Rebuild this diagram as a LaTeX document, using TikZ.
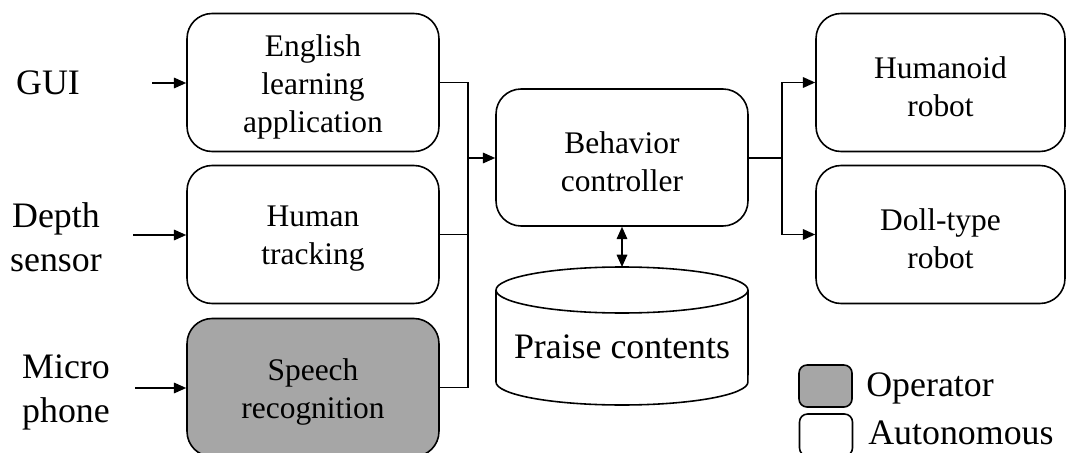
\documentclass[tikz,border=0pt]{standalone}
\usepackage{fontspec}
\setmainfont{Liberation Serif}
\usetikzlibrary{arrows.meta}

\definecolor{opgray}{RGB}{166,166,166}
\tikzset{
  box/.style={draw, line width=0.9pt, rounded corners=0.5cm, fill=white,
    minimum width=5.04cm, minimum height=2.76cm, inner sep=0pt},
  opbox/.style={box, fill=opgray},
  boxtext/.style={align=center, inner sep=0pt, yshift=-0.09cm,
    font=\fontsize{17.9}{21.6}\selectfont},
  big/.style={align=center, inner sep=0pt, font=\fontsize{20.4}{25}\selectfont},
  key/.style={draw, line width=0.9pt, rounded corners=0.16cm,
    minimum width=1.06cm, minimum height=0.84cm, inner sep=0pt},
  wire/.style={line width=0.9pt},
  arr/.style={wire, -{Triangle[length=7pt,width=6pt]}},
  darr/.style={wire, {Triangle[length=7pt,width=6pt]}-{Triangle[length=7pt,width=6pt]}},
}

\begin{document}
\begin{tikzpicture}[x=0.02cm, y=0.02cm]
  \useasboundingbox (0,0) rectangle (1066,-453);

  % input sources
  \node[big] (gui) at (48,-83) {GUI};
  \node[big] (depth) at (56,-237) {Depth\\sensor};
  \node[big] (mic) at (66,-392) {Micro\\phone};
  \coordinate (guiin) at (152,-83);
  \coordinate (depthin) at (133,-235);
  \coordinate (micin) at (135,-388);

  % processing modules
  \node[box] (eng) at (313,-82.5) {};
  \node[boxtext] (engt) at (eng.center) {English\\learning\\application};
  \node[box] (track) at (313,-234.5) {};
  \node[boxtext] (trackt) at (track.center) {Human\\tracking};
  \node[opbox] (speech) at (313,-387.5) {};
  \node[boxtext] (speecht) at (speech.center) {Speech\\recognition};

  % controller and praise database
  \node[box, minimum height=2.74cm] (beh) at (622,-157.5) {};
  \node[boxtext] (beht) at (beh.center) {Behavior\\controller};
  \draw[wire, fill=white] (496,-290) -- (496,-382)
    arc[start angle=180, end angle=360, x radius=2.52cm, y radius=0.46cm] -- (748,-290);
  \draw[wire, fill=white] (622,-290) ellipse [x radius=2.52cm, y radius=0.46cm];
  \coordinate (dbtop) at (622,-267);
  \node[big] (db) at (622,-347) {Praise contents};

  % robots
  \node[box, minimum width=4.98cm] (hum) at (940.5,-82.5) {};
  \node[boxtext] (humt) at (hum.center) {Humanoid\\robot};
  \node[box, minimum width=4.98cm] (doll) at (940.5,-234.5) {};
  \node[boxtext] (dollt) at (doll.center) {Doll-type\\robot};

  % legend
  \node[key, fill=opgray] (kop) at (825.5,-386) {};
  \node[key, fill=white] (kauto) at (826,-435) {};
  \node[big, anchor=west] (lop) at (866,-388) {Operator};
  \node[big, anchor=west] (lauto) at (868,-433) {Autonomous};

  % inputs
  \draw[arr] (guiin) -- (eng.west |- guiin);
  \draw[arr] (depthin) -- (track.west |- depthin);
  \draw[arr] (micin) -- (speech.west |- micin);

  % merge into the controller
  \coordinate (bus) at (468,-158);
  \draw[wire] (eng.east) -| (bus);
  \draw[wire] (speech.east) -| (bus);
  \draw[wire] (track.east) -- (track.east -| bus);
  \draw[arr] (bus) -- (beh.west |- bus);

  % controller <-> database
  \draw[darr] (beh.south) -- (dbtop);

  % split to the robots
  \coordinate (split) at (782,-158);
  \draw[wire] (beh.east |- split) -- (split);
  \draw[arr] (split) |- (hum.west);
  \draw[arr] (split) |- (doll.west);
\end{tikzpicture}
\end{document}
